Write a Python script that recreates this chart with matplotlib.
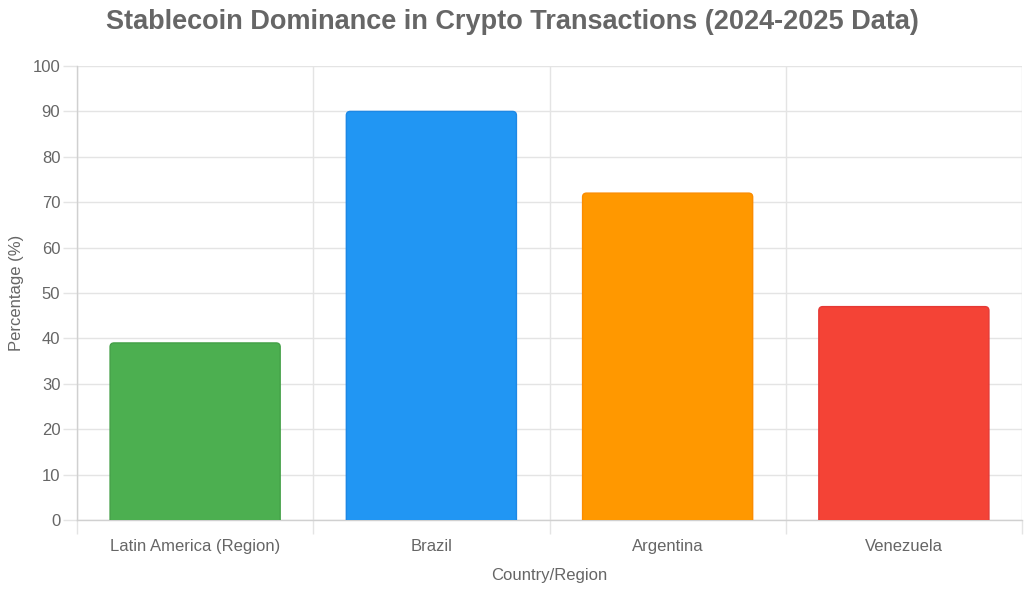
import matplotlib
matplotlib.use("Agg")
import matplotlib.pyplot as plt
from matplotlib.patches import FancyBboxPatch

plt.rcParams['font.family'] = ['Liberation Sans', 'DejaVu Sans']

categories = ["Latin America (Region)", "Brazil", "Argentina", "Venezuela"]
values = [39, 90, 72, 47]
colors = ["#4CAF50", "#2196F3", "#FF9800", "#F44336"]
edges = ["#43A047", "#1E88E5", "#FB8C00", "#E53935"]
yticks = [0, 10, 20, 30, 40, 50, 60, 70, 80, 90, 100]

textColor = "#666666"
gridColor = "#e4e4e4"

fig = plt.figure(figsize=(10.24, 5.89), dpi=100)
ax = fig.add_axes([77 / 1024, 1 - 520 / 589, 945 / 1024, 454 / 589])

x = list(range(len(categories)))
bars = ax.bar(x, values, width=0.72, color=colors, edgecolor=edges, linewidth=1, zorder=3)

ax.set_xlim(-0.5, len(categories) - 0.5)
ax.set_ylim(0, 100)

# swap plain bars for ones with rounded tops
pxPerX = 945 / len(categories)
pxPerY = 454 / 100
radius = 4 / pxPerX
for b, fc, ec in zip(bars, colors, edges):
    bx, bw, bh = b.get_x(), b.get_width(), b.get_height()
    b.remove()
    p = FancyBboxPatch((bx, -5), bw, bh + 5,
                       boxstyle="round,pad=0,rounding_size=%f" % radius,
                       mutation_aspect=pxPerX / pxPerY,
                       facecolor=fc, edgecolor=ec, linewidth=1, zorder=3, clip_on=True)
    ax.add_patch(p)

ax.set_yticks(yticks)
ax.set_xticks(x)
ax.set_xticklabels(categories)
ax.set_xticks([i - 0.5 for i in range(len(categories) + 1)], minor=True)

ax.grid(True, axis='y', color=gridColor, linewidth=1, zorder=0)
ax.grid(True, axis='x', which='minor', color=gridColor, linewidth=1, zorder=0)
ax.tick_params(axis='x', which='major', length=0, pad=14, labelsize=12, labelcolor=textColor)
ax.tick_params(axis='x', which='minor', length=10, color=gridColor, width=1)
ax.tick_params(axis='y', length=10, color=gridColor, width=1, labelsize=12, labelcolor=textColor, pad=2)

for s in ['top', 'right']:
    ax.spines[s].set_visible(False)
for s in ['left', 'bottom']:
    ax.spines[s].set_color("#d0d0d0")
    ax.spines[s].set_linewidth(1)

ax.set_xlabel("Country/Region", fontsize=12, color=textColor, labelpad=10)
ax.set_ylabel("Percentage (%)", fontsize=12, color=textColor, labelpad=6)

fig.text(0.5, 1 - 22 / 589, "Stablecoin Dominance in Crypto Transactions (2024-2025 Data)",
         ha='center', va='center', fontsize=19.5, fontweight='bold', color=textColor)

fig.savefig("out.png", dpi=100, facecolor='white')
